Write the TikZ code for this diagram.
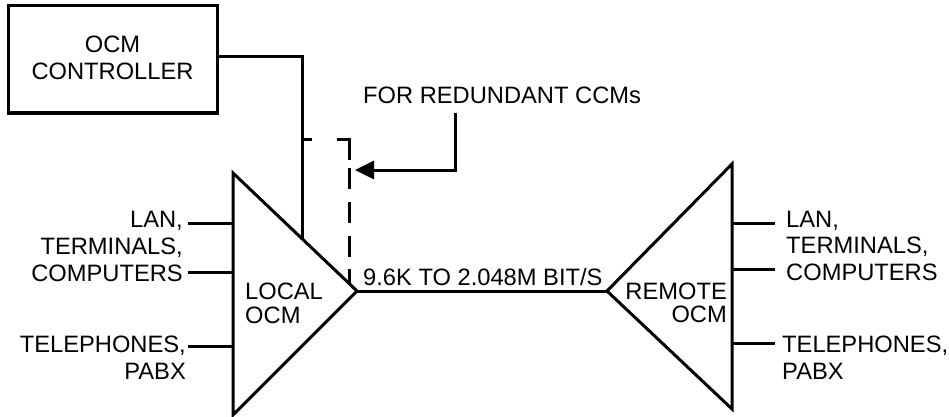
\documentclass[tikz,border=0pt]{standalone}
\usepackage{fontspec}
\setmainfont{Liberation Sans}
\usetikzlibrary{arrows.meta,calc}
\begin{document}
\begin{tikzpicture}[x=1pt,y=-1pt,
  wire/.style={line width=3pt},
  lbl/.style={inner sep=0pt,font=\fontsize{23.7}{27}\selectfont},
  dashwire/.style={line width=3pt,dash pattern=on 10pt off 25pt on 33pt off 8pt on 21pt off 13pt on 21pt off 13pt on 21pt off 12pt on 20pt off 10pt},
  box/.style={draw,line width=3pt,minimum width=209pt,minimum height=107pt,inner sep=0pt}]
\useasboundingbox (0,0) rectangle (949,417);
% controller box
\node[box] (ctrl) at (112.5,59.5) {};
\node[lbl,anchor=base] (t1) at (112.5,53) {OCM};
\node[lbl,anchor=base] (t2) at (112.5,80) {CONTROLLER};
% local triangle
\coordinate (LT) at (233,173);
\coordinate (LA) at (357,291);
\coordinate (LB) at (233,415);
\draw[wire,line join=miter] (LT) -- (LA) -- (LB) -- cycle;
% remote triangle
\coordinate (RA) at (607,291);
\coordinate (RT) at (732,164);
\coordinate (RB) at (732,409);
\draw[wire,line join=miter] (RA) -- (RT) -- (RB) -- cycle;
% link
\draw[wire] (LA) -- (RA);
\node[lbl,anchor=base west] (rate) at (363,285) {9.6K TO 2.048M BIT/S};
% controller connection
\coordinate (c1) at (302,57);
\coordinate (c2) at (302,238.7);
\draw[wire] (c1 -| ctrl.east) -- (c1) -- (c2);
% dashed redundant
\coordinate (d0) at (302,139);
\coordinate (d1) at (349,139);
\coordinate (d2) at (349,283.4);
\draw[dashwire] (d0) -- (d1) -- (d2);
% note and arrow
\node[lbl,anchor=base west] (note) at (363,103) {FOR REDUNDANT CCMs};
\coordinate (a0) at (455,113);
\coordinate (a1) at (455,170);
\coordinate (a2) at (355,170);
\draw[wire,-{Triangle[length=19pt,width=18pt]}] (a0) -- (a1) -- (a2);
% local labels
\node[lbl,anchor=base west] (lo1) at (245,299) {LOCAL};
\node[lbl,anchor=base west] (lo2) at (245,323) {OCM};
\node[lbl,anchor=base east] (l1) at (183,227) {LAN,};
\node[lbl,anchor=base east] (l2) at (183,254) {TERMINALS,};
\node[lbl,anchor=base east] (l3) at (183,281) {COMPUTERS};
\node[lbl,anchor=base east] (l4) at (186,352) {TELEPHONES,};
\node[lbl,anchor=base east] (l5) at (186,379) {PABX};
\coordinate (li1) at (188,223);
\coordinate (li2) at (188,272);
\coordinate (li3) at (188,346);
\draw[wire] (li1) -- (li1 -| LT);
\draw[wire] (li2) -- (li2 -| LT);
\draw[wire] (li3) -- (li3 -| LT);
% remote labels
\node[lbl,anchor=base east] (ro1) at (727,299) {REMOTE};
\node[lbl,anchor=base east] (ro2) at (727,322) {OCM};
\node[lbl,anchor=base west] (r1) at (786,227) {LAN,};
\node[lbl,anchor=base west] (r2) at (786,253) {TERMINALS,};
\node[lbl,anchor=base west] (r3) at (786,280) {COMPUTERS};
\node[lbl,anchor=base west] (r4) at (782,352) {TELEPHONES,};
\node[lbl,anchor=base west] (r5) at (782,379) {PABX};
\coordinate (ri1) at (775,223);
\coordinate (ri2) at (775,269);
\coordinate (ri3) at (775,343);
\draw[wire] (ri1 -| RT) -- (ri1);
\draw[wire] (ri2 -| RT) -- (ri2);
\draw[wire] (ri3 -| RT) -- (ri3);
\end{tikzpicture}
\end{document}
